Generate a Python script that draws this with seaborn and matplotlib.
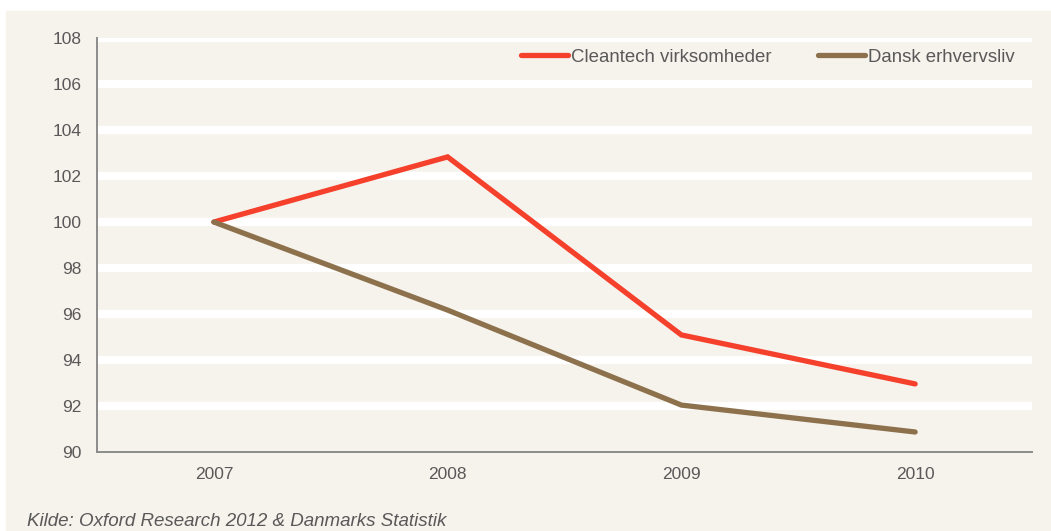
import pandas as pd
import numpy as np
import matplotlib
matplotlib.use("Agg")
import matplotlib.pyplot as plt
import seaborn as sns
from matplotlib.ticker import FixedLocator, NullFormatter

# data (index, 2007 = 100)
aar = ["2007", "2008", "2009", "2010"]
cleantech = [100.0, 102.83, 95.09, 92.96]
dansk = [100.0, 96.17, 92.04, 90.87]
serier = ["Cleantech virksomheder", "Dansk erhvervsliv"]
farver = ["#F5402C", "#8C714C"]

df = pd.DataFrame({
    "aar": aar * 2,
    "indeks": cleantech + dansk,
    "serie": [serier[0]] * 4 + [serier[1]] * 4,
})

sns.set_style("white")
plt.rcParams["font.family"] = ["Liberation Sans", "DejaVu Sans"]
bg = "#F6F2EC"
tekst = "#595959"
akse = "#8C8C8C"

fig = plt.figure(figsize=(10.51, 5.31), dpi=100, facecolor="white")
fig.patches.append(plt.Rectangle((6 / 1051, 0), 1 - 6 / 1051, 1 - 11 / 531,
                                 transform=fig.transFigure, color=bg, zorder=-10))
ax = fig.add_axes([97 / 1051, 1 - 452 / 531, (1032 - 97) / 1051, (452 - 38) / 531])
ax.set_facecolor(bg)

sns.lineplot(data=df, x="aar", y="indeks", hue="serie", palette=farver,
             linewidth=3.8, ax=ax, sort=False)
for ln in ax.get_lines():
    ln.set_solid_capstyle("round")
    ln.set_solid_joinstyle("miter")

ax.set_ylim(90, 108)
ax.set_yticks(np.arange(90, 109, 2))
ax.set_xlim(-0.5, 3.5)
ax.set_xticks(range(4))
ax.set_xticklabels(aar)
ax.xaxis.set_minor_locator(FixedLocator([-0.5, 0.5, 1.5, 2.5, 3.5]))
ax.xaxis.set_minor_formatter(NullFormatter())
ax.tick_params(axis="x", which="major", length=0, pad=11, labelsize=12.5, labelcolor=tekst)
ax.tick_params(axis="x", which="minor", length=6, width=1.2, color=akse, direction="out")
ax.tick_params(axis="y", length=5, width=1.2, color=akse, pad=6, labelsize=12.5, labelcolor=tekst)

for y in np.arange(92, 109, 2):
    ax.axhline(y, color="white", linewidth=6, zorder=0.5)

for s in ["top", "right"]:
    ax.spines[s].set_visible(False)
for s in ["left", "bottom"]:
    ax.spines[s].set_color(akse)
    ax.spines[s].set_linewidth(1.4)

ax.set_xlabel("")
ax.set_ylabel("")
leg = ax.legend(loc="upper right", ncol=2, frameon=False, fontsize=13.4,
                handlelength=2.5, handletextpad=0.2, columnspacing=2.5,
                bbox_to_anchor=(1.0, 1.015), labelcolor=tekst)
for h in leg.get_lines():
    h.set_linewidth(3.8)

fig.text(27 / 1051, 1 - 521 / 531, "Kilde: Oxford Research 2012 & Danmarks Statistik",
         fontsize=13.5, style="italic", color=tekst, va="center")

fig.savefig("out.png", dpi=100, facecolor="white")
